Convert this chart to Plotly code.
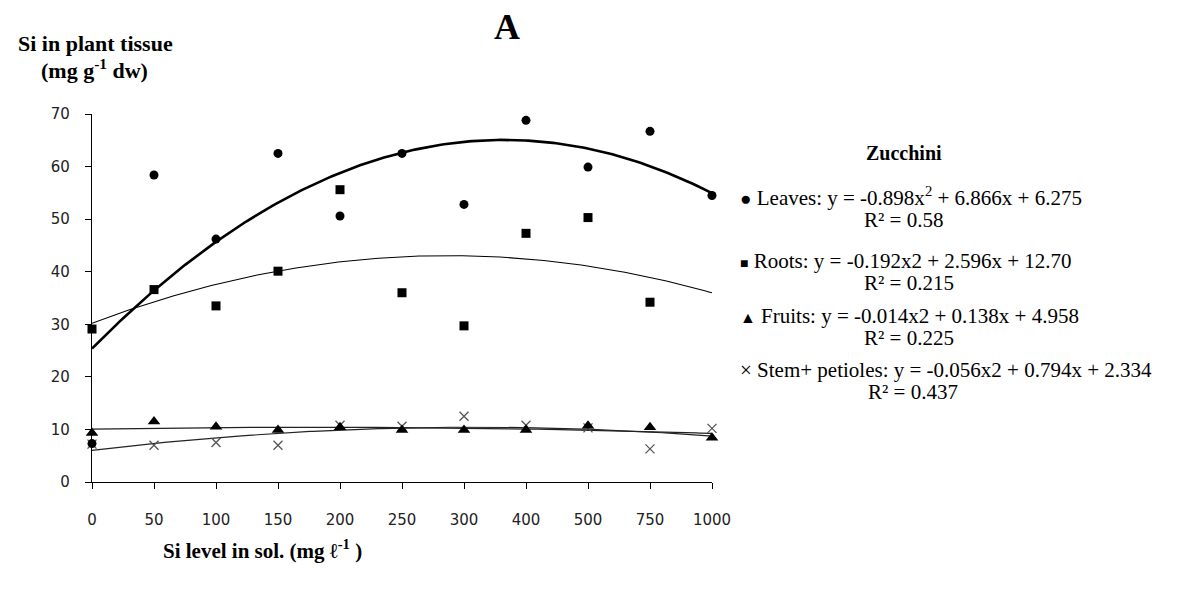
import numpy as np
import plotly.graph_objects as go

# ---- data ----
si_levels = ["0", "50", "100", "150", "200", "250", "300", "400", "500", "750", "1000"]
leaves = [7.3, 58.4, 46.2, 62.5, 50.6, 62.5, 52.8, 68.8, 59.9, 66.7, 54.5]
roots = [29.1, 36.6, 33.5, 40.1, 55.6, 36.0, 29.7, 47.3, 50.3, 34.2, None]
fruits = [9.3, 11.5, 10.5, 9.9, 10.4, 9.9, 9.9, 9.9, 10.7, 10.4, 8.4]
stems = [7.2, 7.0, 7.5, 7.0, 10.8, 10.6, 12.5, 10.8, 10.3, 6.3, 10.2]

idx = np.arange(len(si_levels))


def trend(vals):
    x = np.array([i for i, v in zip(idx, vals) if v is not None], dtype=float)
    y = np.array([v for v in vals if v is not None], dtype=float)
    c = np.polyfit(x, y, 2)
    xs = np.linspace(0, len(si_levels) - 1, 200)
    return xs, np.polyval(c, xs)


fig = go.Figure()

# trend lines
for vals, w, col in [(leaves, 2.6, "black"), (roots, 1.1, "black"),
                     (fruits, 1.2, "#222"), (stems, 1.2, "#222")]:
    xs, ys = trend(vals)
    fig.add_trace(go.Scatter(x=xs, y=ys, mode="lines",
                             line=dict(color=col, width=w),
                             hoverinfo="skip", showlegend=False, cliponaxis=False))

# points
fig.add_trace(go.Scatter(x=idx, y=stems, mode="markers", showlegend=False, cliponaxis=False,
                         marker=dict(symbol="x-thin", size=9, line=dict(color="#555", width=1.3))))
fig.add_trace(go.Scatter(x=idx, y=roots, mode="markers", showlegend=False, cliponaxis=False,
                         marker=dict(symbol="square", size=9, color="black")))
fig.add_trace(go.Scatter(x=idx, y=fruits, mode="markers", showlegend=False, cliponaxis=False,
                         marker=dict(symbol="triangle-up", size=11, color="black")))
fig.add_trace(go.Scatter(x=idx, y=leaves, mode="markers", showlegend=False, cliponaxis=False,
                         marker=dict(symbol="circle", size=9, color="black")))

L, R, T, B = 92, 478, 114, 109
W, H = 1190, 591
PW, PH = W - L - R, H - T - B


def px(x):
    return (x - L) / PW


def py(y):
    return (H - B - y) / PH


serif = "Liberation Serif, Times New Roman, serif"
ann = []


def add(text, x, y, size=21, bold=False, xanchor="left"):
    if bold:
        text = "<b>" + text + "</b>"
    ann.append(dict(text=text, x=px(x), y=py(y), xref="paper", yref="paper",
                    xanchor=xanchor, yanchor="middle", showarrow=False,
                    font=dict(family=serif, size=size, color="black")))


add("A", 507, 27, size=36, bold=True, xanchor="center")
add("Si in plant tissue", 95, 44, size=22, bold=True, xanchor="center")
add("(mg g<sup>-1</sup> dw)", 94, 69, size=22, bold=True, xanchor="center")
add("Si level in sol. (mg ℓ<sup>-1</sup> )", 262, 549, size=21, bold=True, xanchor="center")

add("Zucchini", 904, 153, size=20, bold=True, xanchor="center")
add("<span style='font-size:19px'>●</span> Leaves: y = -0.898x<sup>2</sup> + 6.866x + 6.275", 738, 196)
add("R² = 0.58", 862, 220)
add("<span style='font-size:14px'>■</span> Roots: y = -0.192x2 + 2.596x + 12.70", 738, 261)
add("R² = 0.215", 862, 283)
add("<span style='font-size:16px'>▲</span> Fruits: y = -0.014x2 + 0.138x + 4.958", 738, 316)
add("R² = 0.225", 862, 338)
add("× Stem+ petioles: y = -0.056x2 + 0.794x + 2.334", 738, 370)
add("R² = 0.437", 866, 392)

fig.update_layout(
    width=W, height=H,
    margin=dict(l=L, r=R, t=T, b=B),
    paper_bgcolor="white", plot_bgcolor="white",
    annotations=ann,
    xaxis=dict(range=[0, len(si_levels) - 1], tickvals=idx, ticktext=si_levels,
               showline=True, linecolor="black", linewidth=1.2, ticks="outside",
               ticklen=6, tickcolor="black", showgrid=False, zeroline=False,
               tickfont=dict(family="DejaVu Sans", size=15, color="#222"), ticklabelstandoff=18),
    yaxis=dict(range=[0, 70], dtick=10, showline=True, linecolor="black", linewidth=1.2,
               ticks="outside", ticklen=6, tickcolor="black", showgrid=False, zeroline=False,
               tickfont=dict(family="DejaVu Sans", size=15, color="#222"), ticklabelstandoff=12),
)

fig.write_html("out.html")
